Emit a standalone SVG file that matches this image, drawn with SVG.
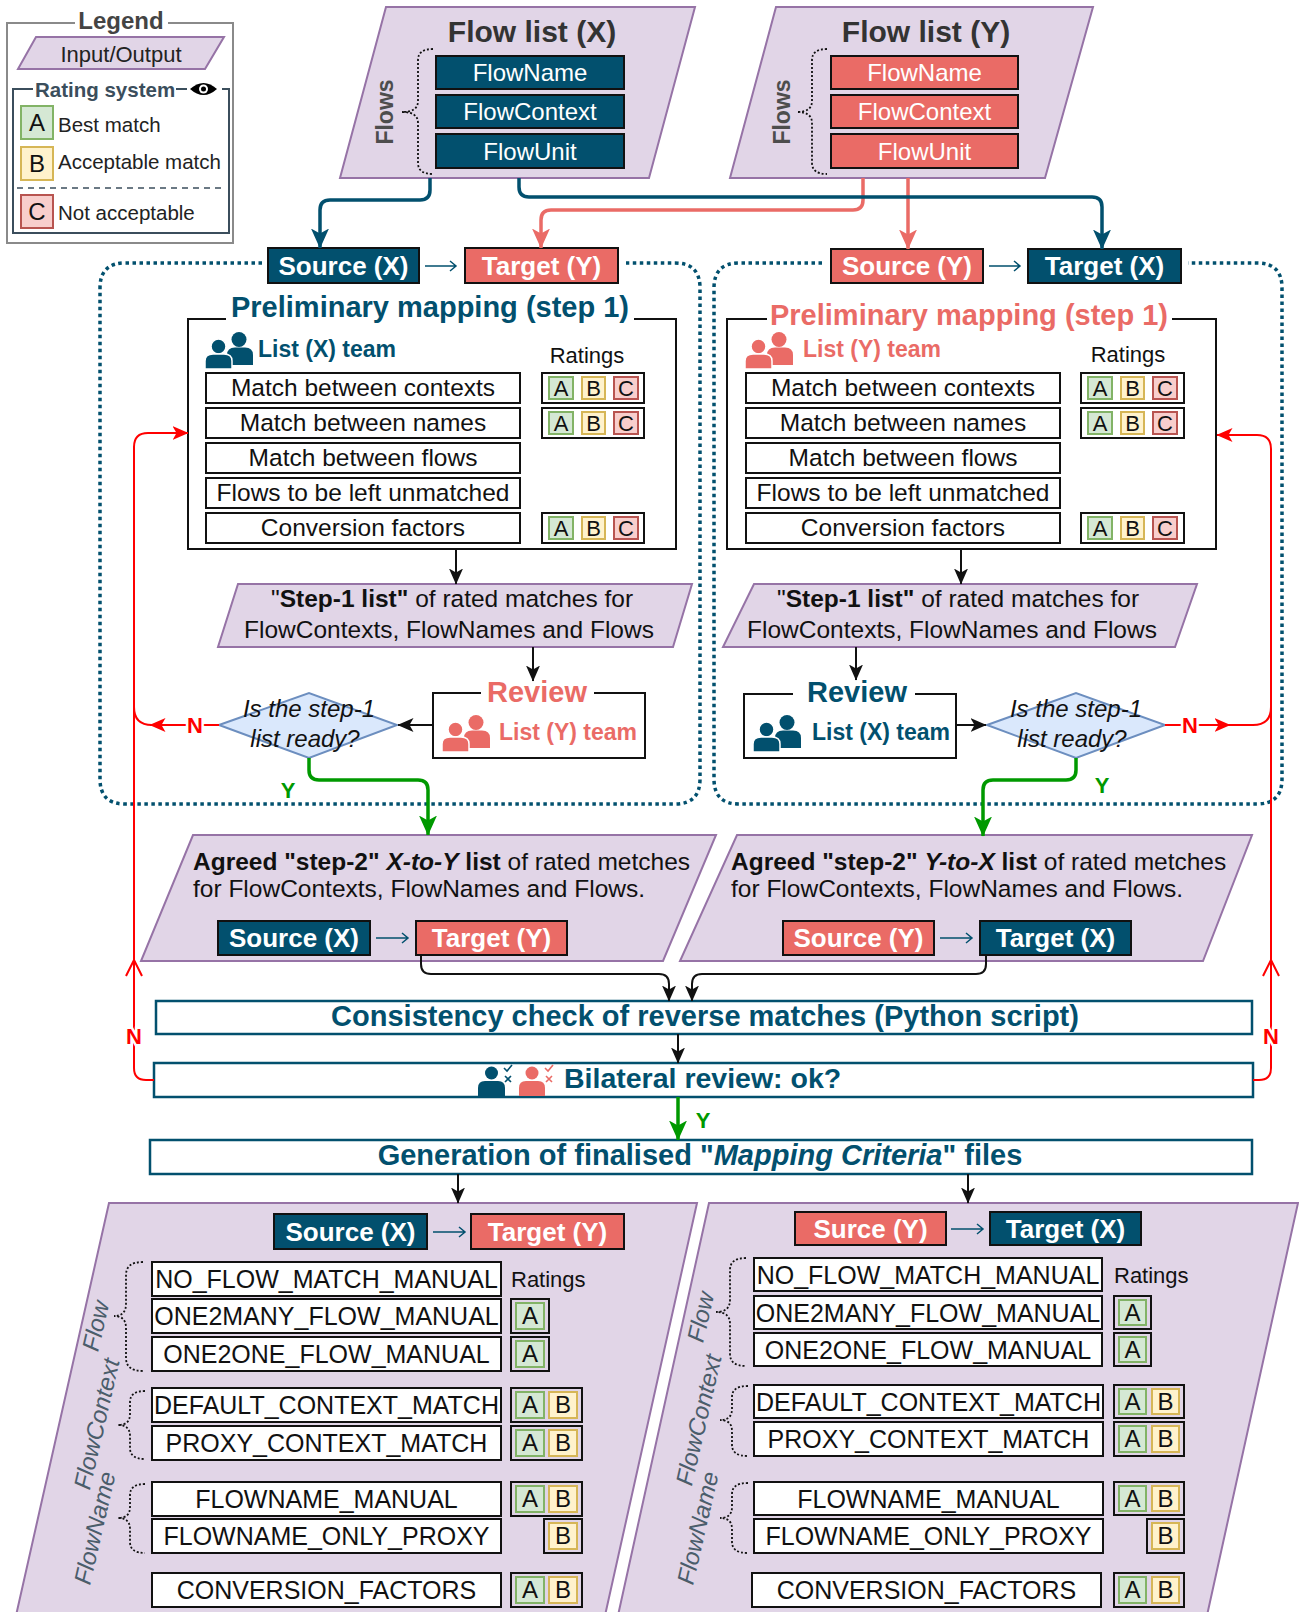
<svg xmlns="http://www.w3.org/2000/svg" xmlns:xlink="http://www.w3.org/1999/xlink" width="1299" height="1612" viewBox="0 0 1299 1612">
<style>
text{font-family:"Liberation Sans",Arial,Helvetica,sans-serif;}
.io{fill:#e1d5e7;stroke:#9673a6;stroke-width:2}
.row{fill:#fff;stroke:#111;stroke-width:2}
.bx{fill:#02506e;stroke:#111;stroke-width:2}
.rx{fill:#ea6b66;stroke:#111;stroke-width:2}
.wt{fill:#fff;font-weight:bold;font-size:26px;text-anchor:middle}
.wr{fill:#fff;font-size:24px;text-anchor:middle}
.rt{fill:#111;font-size:24.5px;text-anchor:middle}
.bt{fill:#111;font-size:25px;text-anchor:middle}
.sA{fill:#d5e8d4;stroke:#82b366;stroke-width:2}
.sB{fill:#fff2cc;stroke:#d6b656;stroke-width:2}
.sC{fill:#f8cecc;stroke:#b85450;stroke-width:2}
.sl{fill:#111;font-size:22px;text-anchor:middle}
.bl{fill:#111;font-size:24px;text-anchor:middle}
.ob{fill:none;stroke:#111;stroke-width:2}
.dot{fill:none;stroke:#02506e;stroke-width:3.5;stroke-dasharray:3.5 3.5}
.brace{fill:none;stroke:#111;stroke-width:1.8;stroke-dasharray:2 2}
.frame{fill:none;stroke:#111;stroke-width:2}
.big{fill:#fff;stroke:#02506e;stroke-width:2.5}
.ttl{font-weight:bold;font-size:29px;text-anchor:middle}
.team{font-weight:bold;font-size:23px}
.lbl{font-weight:bold;font-size:22px;text-anchor:middle}
.rot{fill:#4b5d6b;font-size:24px;font-style:italic;text-anchor:middle}
.k{fill:none;stroke:#111;stroke-width:2}
.sa{fill:none;stroke:#02506e;stroke-width:1.5}
</style>
<defs>
<marker id="mk" viewBox="0 0 16 14" refX="15.5" refY="7" markerWidth="16" markerHeight="14" markerUnits="userSpaceOnUse" orient="auto"><path d="M0,0 L16,7 L0,14 L4,7 Z" fill="#111"/></marker>
<marker id="mb" viewBox="0 0 20 18" refX="19.5" refY="9" markerWidth="20" markerHeight="18" markerUnits="userSpaceOnUse" orient="auto"><path d="M0,0 L20,9 L0,18 L5,9 Z" fill="#02506e"/></marker>
<marker id="ms" viewBox="0 0 20 18" refX="19.5" refY="9" markerWidth="20" markerHeight="18" markerUnits="userSpaceOnUse" orient="auto"><path d="M0,0 L20,9 L0,18 L5,9 Z" fill="#ea6b66"/></marker>
<marker id="mg" viewBox="0 0 20 18" refX="19.5" refY="9" markerWidth="20" markerHeight="18" markerUnits="userSpaceOnUse" orient="auto"><path d="M0,0 L20,9 L0,18 L5,9 Z" fill="#009900"/></marker>
<marker id="mr" viewBox="0 0 16 14" refX="15.5" refY="7" markerWidth="16" markerHeight="14" markerUnits="userSpaceOnUse" orient="auto"><path d="M0,0 L16,7 L0,14 L4,7 Z" fill="#ff0000"/></marker>
<g id="teamIcon">
<circle cx="34" cy="7.5" r="7.5"/>
<path d="M22,33 V23 Q22,15.5 30,15.5 H40 Q48,15.5 48,23 V33 Z"/>
<circle cx="13.5" cy="14.5" r="7.5" stroke="#fff" stroke-width="1.5"/>
<path d="M0,37 V29 Q0,22 8,22 H19 Q27,22 27,29 V37 Z" stroke="#fff" stroke-width="1.5"/>
</g>
</defs>
<rect width="1299" height="1612" fill="#fff"/>

<!-- Legend -->
<g id="legend">
<path d="M75,23 H7 V243 H233 V23 H168" fill="none" stroke="#8a8a8a" stroke-width="2"/>
<text x="121" y="29" text-anchor="middle" font-weight="bold" font-size="24" fill="#444">Legend</text>
<polygon class="io" points="36,37 224,37 205,69 18,69"/>
<text x="121" y="62" text-anchor="middle" font-size="22" fill="#222">Input/Output</text>
<path d="M33,89 H13 V233 H229 V89 H222 M176,89 H187" fill="none" stroke="#3b4e5c" stroke-width="2"/>
<text x="35" y="97" font-weight="bold" font-size="20.5" fill="#3b4e5c">Rating system</text>
<path d="M190,89 Q203.5,77 217,89 Q203.5,101 190,89 Z" fill="#000"/>
<circle cx="203.5" cy="89" r="4.5" fill="#fff"/>
<circle cx="203.5" cy="89" r="2.5" fill="#000"/>
<rect class="sA" x="21" y="106" width="32" height="33"/>
<text x="37" y="131" class="bl" font-size="24">A</text>
<text x="58" y="132" font-size="20.5" fill="#222">Best match</text>
<rect class="sB" x="21" y="147" width="32" height="33"/>
<text x="37" y="172" class="bl">B</text>
<text x="58" y="169" font-size="20.5" fill="#222">Acceptable match</text>
<path d="M17,188 H223" fill="none" stroke="#3b4e5c" stroke-width="1.5" stroke-dasharray="6 5"/>
<rect class="sC" x="21" y="195" width="32" height="33"/>
<text x="37" y="220" class="bl">C</text>
<text x="58" y="220" font-size="20.5" fill="#222">Not acceptable</text>
</g>

<!-- Flow list X -->
<g id="flowlistX">
<polygon class="io" points="386,7 695,7 649,178 340,178"/>
<text x="532" y="42" text-anchor="middle" font-weight="bold" font-size="30" fill="#333">Flow list (X)</text>
<path class="brace" d="M433,49 Q418,49 418,60 V101 Q418,112 402,112 Q418,112 418,123 V163 Q418,174 433,174"/>
<text transform="translate(385,112) rotate(-90)" y="8" text-anchor="middle" font-weight="bold" font-size="23" fill="#4d4d4d">Flows</text>
<rect class="bx" x="436" y="56" width="188" height="33"/><text class="wr" x="530" y="81">FlowName</text>
<rect class="bx" x="436" y="95" width="188" height="33"/><text class="wr" x="530" y="120">FlowContext</text>
<rect class="bx" x="436" y="134" width="188" height="34"/><text class="wr" x="530" y="160">FlowUnit</text>
</g>

<!-- Flow list Y -->
<g id="flowlistY">
<polygon class="io" points="776,7 1093,7 1045,178 730,178"/>
<text x="926" y="42" text-anchor="middle" font-weight="bold" font-size="30" fill="#333">Flow list (Y)</text>
<path class="brace" d="M827,49 Q812,49 812,60 V101 Q812,112 797,112 Q812,112 812,123 V163 Q812,174 827,174"/>
<text transform="translate(782,112) rotate(-90)" y="8" text-anchor="middle" font-weight="bold" font-size="23" fill="#4d4d4d">Flows</text>
<rect class="rx" x="831" y="56" width="187" height="33"/><text class="wr" x="924.5" y="81">FlowName</text>
<rect class="rx" x="831" y="95" width="187" height="33"/><text class="wr" x="924.5" y="120">FlowContext</text>
<rect class="rx" x="831" y="134" width="187" height="34"/><text class="wr" x="924.5" y="160">FlowUnit</text>
</g>

<!-- Left dotted container -->
<g id="containerXY">
<path class="dot" d="M262,263 H125 Q100,263 100,288 V779 Q100,804 125,804 H675 Q700,804 700,779 V288 Q700,263 675,263 H626"/>
<rect class="bx" x="268" y="248" width="151" height="35"/><text class="wt" x="343.5" y="275">Source (X)</text>
<path class="sa" d="M425,266 H456 M450,261 L456,266 L450,271"/>
<rect class="rx" x="465" y="248" width="153" height="35"/><text class="wt" x="541.5" y="275">Target (Y)</text>
</g>

<g id="prelimX">
<path class="frame" d="M226,319 H188 V549 H676 V319 H634"/>
<text x="430" y="317" class="ttl" fill="#02506e" font-size="28.5">Preliminary mapping (step 1)</text>
<use href="#teamIcon" x="205" y="332" fill="#02506e"/>
<text x="258" y="357" class="team" fill="#02506e">List (X) team</text>
<text x="587" y="363" text-anchor="middle" font-size="22" fill="#111">Ratings</text>
<rect class="row" x="206" y="373" width="314" height="30"/><text class="rt" x="363" y="396">Match between contexts</text>
<rect class="row" x="206" y="408" width="314" height="30"/><text class="rt" x="363" y="431">Match between names</text>
<rect class="row" x="206" y="443" width="314" height="30"/><text class="rt" x="363" y="466">Match between flows</text>
<rect class="row" x="206" y="478" width="314" height="30"/><text class="rt" x="363" y="501">Flows to be left unmatched</text>
<rect class="row" x="206" y="513" width="314" height="30"/><text class="rt" x="363" y="536">Conversion factors</text>
<rect class="ob" x="542" y="373" width="102" height="30"/>
<rect class="sA" x="549" y="377" width="24" height="22"/><text class="sl" x="561" y="396">A</text>
<rect class="sB" x="582" y="377" width="23" height="22"/><text class="sl" x="593.5" y="396">B</text>
<rect class="sC" x="614" y="377" width="24" height="22"/><text class="sl" x="626" y="396">C</text>
<rect class="ob" x="542" y="408" width="102" height="30"/>
<rect class="sA" x="549" y="412" width="24" height="22"/><text class="sl" x="561" y="431">A</text>
<rect class="sB" x="582" y="412" width="23" height="22"/><text class="sl" x="593.5" y="431">B</text>
<rect class="sC" x="614" y="412" width="24" height="22"/><text class="sl" x="626" y="431">C</text>
<rect class="ob" x="542" y="513" width="102" height="30"/>
<rect class="sA" x="549" y="517" width="24" height="22"/><text class="sl" x="561" y="536">A</text>
<rect class="sB" x="582" y="517" width="23" height="22"/><text class="sl" x="593.5" y="536">B</text>
<rect class="sC" x="614" y="517" width="24" height="22"/><text class="sl" x="626" y="536">C</text>
</g>

<g id="step1X">
<polygon class="io" points="238,584 692,584 673,647 218,647"/>
<text x="452" y="607" class="rt">"<tspan font-weight="bold">Step-1 list"</tspan> of rated matches for</text>
<text x="449" y="638" class="rt">FlowContexts, FlowNames and Flows</text>
</g>

<g id="reviewY">
<path class="frame" d="M481,693 H433 V758 H645 V693 H594"/>
<text x="537" y="702" class="ttl" fill="#ea6b66">Review</text>
<use href="#teamIcon" x="442" y="715" fill="#ea6b66"/>
<text x="499" y="740" class="team" fill="#ea6b66">List (Y) team</text>
</g>

<g id="decisionX">
<polygon points="219,725 309,693 397,725 309,758" fill="#dae8fc" stroke="#6c8ebf" stroke-width="2"/>
<text x="309" y="717" text-anchor="middle" font-size="24" font-style="italic" fill="#111">Is the step-1</text>
<text x="305" y="747" text-anchor="middle" font-size="24" font-style="italic" fill="#111">list ready?</text>
</g>

<!-- Right dotted container -->
<g id="containerYX">
<path class="dot" d="M822,263 H739 Q714,263 714,288 V779 Q714,804 739,804 H1257 Q1282,804 1282,779 V288 Q1282,263 1257,263 H1188"/>
<rect class="rx" x="831" y="249" width="152" height="34"/><text class="wt" x="907" y="275">Source (Y)</text>
<path class="sa" d="M989,266 H1020 M1014,261 L1020,266 L1014,271"/>
<rect class="bx" x="1028" y="249" width="153" height="34"/><text class="wt" x="1104.5" y="275">Target (X)</text>
</g>

<g id="prelimY">
<path class="frame" d="M767,319 H727 V549 H1216 V319 H1172"/>
<text x="969" y="325" class="ttl" fill="#ea6b66" font-size="28.5">Preliminary mapping (step 1)</text>
<use href="#teamIcon" x="745" y="332" fill="#ea6b66"/>
<text x="803" y="357" class="team" fill="#ea6b66">List (Y) team</text>
<text x="1128" y="362" text-anchor="middle" font-size="22" fill="#111">Ratings</text>
<rect class="row" x="746" y="373" width="314" height="30"/><text class="rt" x="903" y="396">Match between contexts</text>
<rect class="row" x="746" y="408" width="314" height="30"/><text class="rt" x="903" y="431">Match between names</text>
<rect class="row" x="746" y="443" width="314" height="30"/><text class="rt" x="903" y="466">Match between flows</text>
<rect class="row" x="746" y="478" width="314" height="30"/><text class="rt" x="903" y="501">Flows to be left unmatched</text>
<rect class="row" x="746" y="513" width="314" height="30"/><text class="rt" x="903" y="536">Conversion factors</text>
<rect class="ob" x="1081" y="373" width="103" height="30"/>
<rect class="sA" x="1088" y="377" width="24" height="22"/><text class="sl" x="1100" y="396">A</text>
<rect class="sB" x="1121" y="377" width="23" height="22"/><text class="sl" x="1132.5" y="396">B</text>
<rect class="sC" x="1153" y="377" width="24" height="22"/><text class="sl" x="1165" y="396">C</text>
<rect class="ob" x="1081" y="408" width="103" height="30"/>
<rect class="sA" x="1088" y="412" width="24" height="22"/><text class="sl" x="1100" y="431">A</text>
<rect class="sB" x="1121" y="412" width="23" height="22"/><text class="sl" x="1132.5" y="431">B</text>
<rect class="sC" x="1153" y="412" width="24" height="22"/><text class="sl" x="1165" y="431">C</text>
<rect class="ob" x="1081" y="513" width="103" height="30"/>
<rect class="sA" x="1088" y="517" width="24" height="22"/><text class="sl" x="1100" y="536">A</text>
<rect class="sB" x="1121" y="517" width="23" height="22"/><text class="sl" x="1132.5" y="536">B</text>
<rect class="sC" x="1153" y="517" width="24" height="22"/><text class="sl" x="1165" y="536">C</text>
</g>

<g id="step1Y">
<polygon class="io" points="754,584 1197,584 1175,647 723,647"/>
<text x="958" y="607" class="rt">"<tspan font-weight="bold">Step-1 list"</tspan> of rated matches for</text>
<text x="952" y="638" class="rt">FlowContexts, FlowNames and Flows</text>
</g>

<g id="reviewX">
<path class="frame" d="M793,694 H744 V758 H956 V694 H915"/>
<text x="857" y="702" class="ttl" fill="#02506e">Review</text>
<use href="#teamIcon" x="753" y="715" fill="#02506e"/>
<text x="812" y="740" class="team" fill="#02506e">List (X) team</text>
</g>

<g id="decisionY">
<polygon points="987,725 1076,693 1165,725 1076,758" fill="#dae8fc" stroke="#6c8ebf" stroke-width="2"/>
<text x="1076" y="717" text-anchor="middle" font-size="24" font-style="italic" fill="#111">Is the step-1</text>
<text x="1072" y="747" text-anchor="middle" font-size="24" font-style="italic" fill="#111">list ready?</text>
</g>

<!-- Agreed lists -->
<g id="agreedXY">
<polygon class="io" points="193,835 716,835 663,961 141,961"/>
<text x="193" y="870" font-size="24.5" fill="#111"><tspan font-weight="bold">Agreed "step-2" </tspan><tspan font-weight="bold" font-style="italic">X-to-Y</tspan><tspan font-weight="bold"> list</tspan> of rated metches</text>
<text x="193" y="897" font-size="24.5" fill="#111">for FlowContexts, FlowNames and Flows.</text>
<rect class="bx" x="218" y="921" width="152" height="34"/><text class="wt" x="294" y="947">Source (X)</text>
<path class="sa" d="M376,938 H408 M402,933 L408,938 L402,943"/>
<rect class="rx" x="416" y="921" width="151" height="34"/><text class="wt" x="491.5" y="947">Target (Y)</text>
</g>

<g id="agreedYX">
<polygon class="io" points="737,835 1252,835 1203,961 680,961"/>
<text x="731" y="870" font-size="24.5" fill="#111"><tspan font-weight="bold">Agreed "step-2" </tspan><tspan font-weight="bold" font-style="italic">Y-to-X</tspan><tspan font-weight="bold"> list</tspan> of rated metches</text>
<text x="731" y="897" font-size="24.5" fill="#111">for FlowContexts, FlowNames and Flows.</text>
<rect class="rx" x="783" y="921" width="151" height="34"/><text class="wt" x="858.5" y="947">Source (Y)</text>
<path class="sa" d="M940,938 H972 M966,933 L972,938 L966,943"/>
<rect class="bx" x="980" y="921" width="151" height="34"/><text class="wt" x="1055.5" y="947">Target (X)</text>
</g>

<g id="consistency">
<rect class="big" x="156" y="1001" width="1096" height="33"/>
<text x="705" y="1026" class="ttl" fill="#02506e">Consistency check of reverse matches (Python script)</text>
</g>

<g id="bilateral">
<rect class="big" x="154" y="1063" width="1099" height="34"/>
<circle cx="491.5" cy="1073" r="6.5" fill="#02506e"/>
<path d="M478,1096 V1088 Q478,1081 485,1081 H498 Q505,1081 505,1088 V1096 Z" fill="#02506e"/>
<path d="M504,1068 l3,3 l5,-6 M505,1076 l6,6 M511,1076 l-6,6" fill="none" stroke="#02506e" stroke-width="1.6"/>
<circle cx="532" cy="1073" r="6.5" fill="#ea6b66"/>
<path d="M519,1096 V1088 Q519,1081 526,1081 H538 Q545,1081 545,1088 V1096 Z" fill="#ea6b66"/>
<path d="M545,1068 l3,3 l5,-6 M546,1076 l6,6 M552,1076 l-6,6" fill="none" stroke="#ea6b66" stroke-width="1.6"/>
<text x="564" y="1088" font-weight="bold" font-size="28.5" fill="#02506e">Bilateral review: ok?</text>
</g>

<g id="generation">
<rect class="big" x="150" y="1140" width="1102" height="34"/>
<text x="700" y="1165" class="ttl" fill="#02506e">Generation of finalised "<tspan font-style="italic">Mapping Criteria</tspan>" files</text>
</g>

<!-- Bottom left -->
<g id="criteriaXY">
<polygon class="io" points="109,1203 697,1203 604,1620 15,1620"/>
<rect class="bx" x="274" y="1214" width="153" height="35"/><text class="wt" x="350.5" y="1241">Source (X)</text>
<path class="sa" d="M433,1232 H465 M459,1227 L465,1232 L459,1237"/>
<rect class="rx" x="471" y="1214" width="153" height="35"/><text class="wt" x="547.5" y="1241">Target (Y)</text>
<path class="brace" d="M143,1262 Q126,1262 126,1275 V1304 Q126,1316 114,1316 Q126,1316 126,1328 V1358 Q126,1371 143,1371"/>
<path class="brace" d="M145,1391 Q130,1391 130,1402 V1414 Q130,1425 118,1425 Q130,1425 130,1436 V1448 Q130,1459 145,1459"/>
<path class="brace" d="M145,1484 Q130,1484 130,1495 V1507 Q130,1518 118,1518 Q130,1518 130,1529 V1542 Q130,1553 145,1553"/>
<text class="rot" transform="translate(96,1326) rotate(-77)" y="8">Flow</text>
<text class="rot" transform="translate(97,1424) rotate(-77)" y="8">FlowContext</text>
<text class="rot" transform="translate(95,1528) rotate(-77)" y="8">FlowName</text>
<text x="511" y="1287" font-size="22" fill="#111">Ratings</text>
<rect class="row" x="152" y="1262" width="349" height="34"/><text class="bt" x="326.5" y="1288">NO_FLOW_MATCH_MANUAL</text>
<rect class="row" x="152" y="1299" width="349" height="34"/><text class="bt" x="326.5" y="1325">ONE2MANY_FLOW_MANUAL</text>
<rect class="row" x="152" y="1337" width="349" height="34"/><text class="bt" x="326.5" y="1363">ONE2ONE_FLOW_MANUAL</text>
<rect class="row" x="152" y="1388" width="349" height="34"/><text class="bt" x="326.5" y="1414">DEFAULT_CONTEXT_MATCH</text>
<rect class="row" x="152" y="1426" width="349" height="34"/><text class="bt" x="326.5" y="1452">PROXY_CONTEXT_MATCH</text>
<rect class="row" x="152" y="1482" width="349" height="34"/><text class="bt" x="326.5" y="1508">FLOWNAME_MANUAL</text>
<rect class="row" x="152" y="1519" width="349" height="34"/><text class="bt" x="326.5" y="1545">FLOWNAME_ONLY_PROXY</text>
<rect class="row" x="152" y="1573" width="349" height="34"/><text class="bt" x="326.5" y="1599">CONVERSION_FACTORS</text>
<rect class="ob" x="511" y="1299" width="38" height="34"/><rect class="sA" x="516" y="1303" width="28" height="26"/><text class="bl" x="530" y="1324">A</text>
<rect class="ob" x="511" y="1337" width="38" height="34"/><rect class="sA" x="516" y="1341" width="28" height="26"/><text class="bl" x="530" y="1362">A</text>
<rect class="ob" x="511" y="1388" width="71" height="34"/><rect class="sA" x="516" y="1392" width="28" height="26"/><text class="bl" x="530" y="1413">A</text><rect class="sB" x="549" y="1392" width="28" height="26"/><text class="bl" x="563" y="1413">B</text>
<rect class="ob" x="511" y="1426" width="71" height="34"/><rect class="sA" x="516" y="1430" width="28" height="26"/><text class="bl" x="530" y="1451">A</text><rect class="sB" x="549" y="1430" width="28" height="26"/><text class="bl" x="563" y="1451">B</text>
<rect class="ob" x="511" y="1482" width="71" height="34"/><rect class="sA" x="516" y="1486" width="28" height="26"/><text class="bl" x="530" y="1507">A</text><rect class="sB" x="549" y="1486" width="28" height="26"/><text class="bl" x="563" y="1507">B</text>
<rect class="ob" x="544" y="1519" width="38" height="34"/><rect class="sB" x="549" y="1523" width="28" height="26"/><text class="bl" x="563" y="1544">B</text>
<rect class="ob" x="511" y="1573" width="71" height="34"/><rect class="sA" x="516" y="1577" width="28" height="26"/><text class="bl" x="530" y="1598">A</text><rect class="sB" x="549" y="1577" width="28" height="26"/><text class="bl" x="563" y="1598">B</text>
</g>

<!-- Bottom right -->
<g id="criteriaYX">
<polygon class="io" points="709,1203 1298,1203 1206,1620 617,1620"/>
<rect class="rx" x="795" y="1212" width="151" height="33"/><text class="wt" x="870.5" y="1238">Surce (Y)</text>
<path class="sa" d="M951,1229 H983 M977,1224 L983,1229 L977,1234"/>
<rect class="bx" x="990" y="1212" width="151" height="33"/><text class="wt" x="1065.5" y="1238">Target (X)</text>
<path class="brace" d="M746,1258 Q730,1258 730,1270 V1300 Q730,1312 716,1312 Q730,1312 730,1324 V1354 Q730,1366 746,1366"/>
<path class="brace" d="M748,1386 Q732,1386 732,1397 V1409 Q732,1420 720,1420 Q732,1420 732,1431 V1445 Q732,1456 748,1456"/>
<path class="brace" d="M748,1483 Q732,1483 732,1494 V1507 Q732,1518 720,1518 Q732,1518 732,1529 V1542 Q732,1553 748,1553"/>
<text class="rot" transform="translate(701,1317) rotate(-77)" y="8">Flow</text>
<text class="rot" transform="translate(699,1420) rotate(-77)" y="8">FlowContext</text>
<text class="rot" transform="translate(698,1528) rotate(-77)" y="8">FlowName</text>
<text x="1114" y="1283" font-size="22" fill="#111">Ratings</text>
<rect class="row" x="754" y="1258" width="348" height="33"/><text class="bt" x="928" y="1284">NO_FLOW_MATCH_MANUAL</text>
<rect class="row" x="754" y="1296" width="348" height="33"/><text class="bt" x="928" y="1322">ONE2MANY_FLOW_MANUAL</text>
<rect class="row" x="754" y="1333" width="348" height="33"/><text class="bt" x="928" y="1359">ONE2ONE_FLOW_MANUAL</text>
<rect class="row" x="754" y="1385" width="349" height="33"/><text class="bt" x="928.5" y="1411">DEFAULT_CONTEXT_MATCH</text>
<rect class="row" x="754" y="1422" width="349" height="34"/><text class="bt" x="928.5" y="1448">PROXY_CONTEXT_MATCH</text>
<rect class="row" x="754" y="1482" width="349" height="33"/><text class="bt" x="928.5" y="1508">FLOWNAME_MANUAL</text>
<rect class="row" x="754" y="1519" width="349" height="34"/><text class="bt" x="928.5" y="1545">FLOWNAME_ONLY_PROXY</text>
<rect class="row" x="752" y="1573" width="349" height="34"/><text class="bt" x="926.5" y="1599">CONVERSION_FACTORS</text>
<rect class="ob" x="1114" y="1296" width="37" height="33"/><rect class="sA" x="1119" y="1300" width="27" height="25"/><text class="bl" x="1132.5" y="1321">A</text>
<rect class="ob" x="1114" y="1333" width="37" height="33"/><rect class="sA" x="1119" y="1337" width="27" height="25"/><text class="bl" x="1132.5" y="1358">A</text>
<rect class="ob" x="1114" y="1385" width="70" height="33"/><rect class="sA" x="1119" y="1389" width="27" height="25"/><text class="bl" x="1132.5" y="1410">A</text><rect class="sB" x="1152" y="1389" width="27" height="25"/><text class="bl" x="1165.5" y="1410">B</text>
<rect class="ob" x="1114" y="1422" width="70" height="34"/><rect class="sA" x="1119" y="1426" width="27" height="26"/><text class="bl" x="1132.5" y="1447">A</text><rect class="sB" x="1152" y="1426" width="27" height="26"/><text class="bl" x="1165.5" y="1447">B</text>
<rect class="ob" x="1114" y="1482" width="70" height="33"/><rect class="sA" x="1119" y="1486" width="27" height="25"/><text class="bl" x="1132.5" y="1507">A</text><rect class="sB" x="1152" y="1486" width="27" height="25"/><text class="bl" x="1165.5" y="1507">B</text>
<rect class="ob" x="1147" y="1519" width="37" height="34"/><rect class="sB" x="1152" y="1523" width="27" height="26"/><text class="bl" x="1165.5" y="1544">B</text>
<rect class="ob" x="1114" y="1573" width="70" height="34"/><rect class="sA" x="1119" y="1577" width="27" height="26"/><text class="bl" x="1132.5" y="1598">A</text><rect class="sB" x="1152" y="1577" width="27" height="26"/><text class="bl" x="1165.5" y="1598">B</text>
</g>

<!-- Connectors -->
<g id="connectors">
<path d="M430,178 V190 Q430,200 420,200 H330 Q320,200 320,210 V248" fill="none" stroke="#02506e" stroke-width="3.5" marker-end="url(#mb)"/>
<path d="M863,178 V200 Q863,210 853,210 H551 Q541,210 541,220 V248" fill="none" stroke="#ea6b66" stroke-width="3.5" marker-end="url(#ms)"/>
<path d="M908,178 V249" fill="none" stroke="#ea6b66" stroke-width="3.5" marker-end="url(#ms)"/>
<path d="M519,178 V187 Q519,197 529,197 H1092 Q1102,197 1102,207 V249" fill="none" stroke="#02506e" stroke-width="3.5" marker-end="url(#mb)"/>

<path class="k" d="M456,549 V584" marker-end="url(#mk)"/>
<path class="k" d="M961,549 V584" marker-end="url(#mk)"/>
<path class="k" d="M533,647 V681" marker-end="url(#mk)"/>
<path class="k" d="M856,647 V680" marker-end="url(#mk)"/>
<path class="k" d="M433,725 H398" marker-end="url(#mk)"/>
<path class="k" d="M956,725 H986" marker-end="url(#mk)"/>

<path d="M309,758 V770 Q309,780 319,780 H418 Q428,780 428,790 V835" fill="none" stroke="#009900" stroke-width="3.5" marker-end="url(#mg)"/>
<path d="M1076,758 V770 Q1076,780 1066,780 H993 Q983,780 983,790 V836" fill="none" stroke="#009900" stroke-width="3.5" marker-end="url(#mg)"/>
<text x="288" y="798" class="lbl" fill="#009900">Y</text>
<text x="1102" y="793" class="lbl" fill="#009900">Y</text>

<path d="M154,1080 H146 Q134,1080 134,1068 V447 Q134,433 148,433 H188" fill="none" stroke="#ff0000" stroke-width="2" marker-end="url(#mr)"/>
<path d="M126,976 L134,960 L142,976" fill="none" stroke="#ff0000" stroke-width="2"/>
<path d="M219,725 H150" fill="none" stroke="#ff0000" stroke-width="2" marker-end="url(#mr)"/>
<path d="M152,725 Q134,725 134,707" fill="none" stroke="#ff0000" stroke-width="2"/>
<text x="195" y="733" class="lbl" fill="#ff0000" stroke="#fff" stroke-width="5" paint-order="stroke">N</text>
<text x="134" y="1044" class="lbl" fill="#ff0000" stroke="#fff" stroke-width="5" paint-order="stroke">N</text>

<path d="M1253,1080 H1259 Q1271,1080 1271,1068 V449 Q1271,435 1257,435 H1217" fill="none" stroke="#ff0000" stroke-width="2" marker-end="url(#mr)"/>
<path d="M1263,976 L1271,960 L1279,976" fill="none" stroke="#ff0000" stroke-width="2"/>
<path d="M1165,725 H1230" fill="none" stroke="#ff0000" stroke-width="2" marker-end="url(#mr)"/>
<path d="M1228,725 H1253 Q1271,725 1271,707" fill="none" stroke="#ff0000" stroke-width="2"/>
<text x="1190" y="733" class="lbl" fill="#ff0000" stroke="#fff" stroke-width="5" paint-order="stroke">N</text>
<text x="1271" y="1044" class="lbl" fill="#ff0000" stroke="#fff" stroke-width="5" paint-order="stroke">N</text>

<path class="k" d="M421,955 V964 Q421,974 431,974 H659 Q669,974 669,984 V1001" marker-end="url(#mk)"/>
<path class="k" d="M986,955 V964 Q986,974 976,974 H702 Q692,974 692,984 V1001" marker-end="url(#mk)"/>
<path class="k" d="M678,1034 V1063" marker-end="url(#mk)"/>
<path d="M678,1097 V1140" fill="none" stroke="#009900" stroke-width="3.5" marker-end="url(#mg)"/>
<text x="703" y="1128" class="lbl" fill="#009900">Y</text>
<path class="k" d="M458,1174 V1203" marker-end="url(#mk)"/>
<path class="k" d="M968,1174 V1203" marker-end="url(#mk)"/>
</g>
</svg>
